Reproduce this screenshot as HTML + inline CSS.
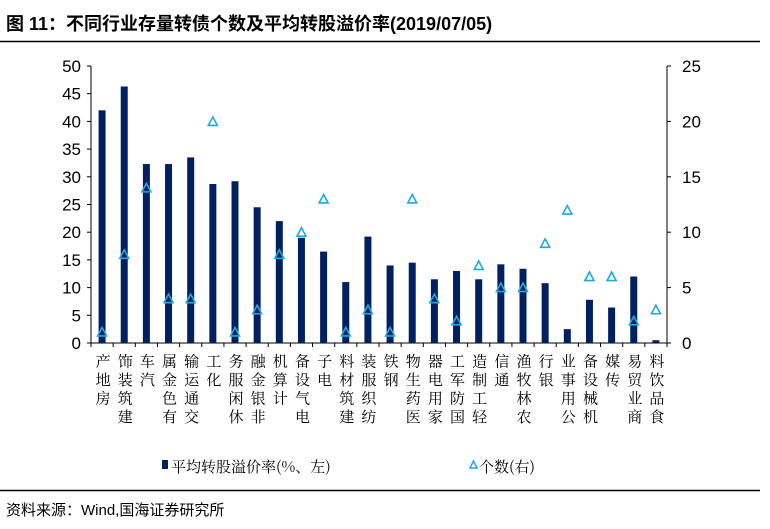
<!DOCTYPE html>
<html><head><meta charset="utf-8"><style>
html,body{margin:0;padding:0;background:#fff;width:770px;height:529px;overflow:hidden}
svg{display:block;font-family:"Liberation Sans","Noto Sans CJK SC",sans-serif}
.cn{font-family:"Noto Serif CJK SC","Noto Sans CJK SC",serif}
</style></head><body>
<svg id="s" width="770" height="529" viewBox="0 0 770 529" xmlns="http://www.w3.org/2000/svg">
<text x="6" y="30" font-size="18" font-weight="bold" fill="#000">图 11：不同行业存量转债个数及平均转股溢价率(2019/07/05)</text>
<line x1="0" y1="41.5" x2="760" y2="41.5" stroke="#000" stroke-width="1.5"/>
<line x1="0" y1="490.5" x2="760" y2="490.5" stroke="#000" stroke-width="1.5"/>
<text x="6" y="515" font-size="15" fill="#000">资料来源：Wind,国海证券研究所</text>
<rect x="162" y="460" width="6" height="9" fill="#002060"/>
<text x="171" y="472" font-size="15" class="cn">平均转股溢价率(%、左)</text>
<polygon points="470,468 473.5,461 477,468" fill="none" stroke="#1fa9e1" stroke-width="1.5"/>
<text x="479" y="472" font-size="15" class="cn">个数(右)</text>
<g id="g"></g>
</svg>
<script>
var g=document.getElementById('g'),h='';
var L=91,R=667,T=66,B=343;
var names=["房地产","建筑装饰","汽车","有色金属","交通运输","化工","休闲服务","非银金融","计算机","电气设备","电子","建筑材料","纺织服装","钢铁","医药生物","家用电器","国防军工","轻工制造","通信","农林牧渔","银行","公用事业","机械设备","传媒","商业贸易","食品饮料"];
var bars=[42,46.3,32.3,32.3,33.5,28.7,29.2,24.5,22,19,16.5,11,19.2,14,14.5,11.5,13,11.5,14.2,13.4,10.8,2.5,7.8,6.4,12,0.5];
var tri=[1,8,14,4,4,20,1,3,8,10,13,1,3,1,13,4,2,7,5,5,9,12,6,6,2,3];
var w=(R-L)/26;
h+='<line x1="'+L+'" y1="'+T+'" x2="'+L+'" y2="'+B+'" stroke="#000"/>';
h+='<line x1="'+R+'" y1="'+T+'" x2="'+R+'" y2="'+B+'" stroke="#000"/>';
h+='<line x1="'+L+'" y1="'+B+'" x2="'+R+'" y2="'+B+'" stroke="#000"/>';
for(var i=0;i<=10;i++){var y=B-i*(B-T)/10;
h+='<line x1="'+(L-4)+'" y1="'+y+'" x2="'+L+'" y2="'+y+'" stroke="#000"/>';
h+='<text x="'+(L-10)+'" y="'+(y+6)+'" font-size="17" text-anchor="end">'+(i*5)+'</text>';}
for(var i=0;i<=5;i++){var y=B-i*(B-T)/5;
h+='<line x1="'+R+'" y1="'+y+'" x2="'+(R+4)+'" y2="'+y+'" stroke="#000"/>';
h+='<text x="'+(R+15)+'" y="'+(y+6)+'" font-size="17">'+(i*5)+'</text>';}
for(var i=0;i<=26;i++){var x=L+i*w;h+='<line x1="'+x+'" y1="'+B+'" x2="'+x+'" y2="'+(B+4)+'" stroke="#000"/>';}
for(var i=0;i<26;i++){var c=L+w*(i+0.5);
var bh=bars[i]/50*(B-T);
h+='<rect x="'+(c-3.5)+'" y="'+(B-bh)+'" width="7" height="'+bh+'" fill="#002060"/>';
var ty=B-tri[i]/25*(B-T);
h+='<polygon points="'+(c-4.5)+','+(ty+4)+' '+c+','+(ty-4.5)+' '+(c+4.5)+','+(ty+4)+'" fill="none" stroke="#1fa9e1" stroke-width="1.6"/>';
var n=names[i];
for(var k=0;k<n.length;k++){var cy=361+(n.length-1-k)*18.5;
h+='<text class="cn" x="'+(c+1)+'" y="'+(cy+5.5)+'" font-size="15" text-anchor="middle">'+n[k]+'</text>';}
}
g.innerHTML=h;
</script>
</body></html>
